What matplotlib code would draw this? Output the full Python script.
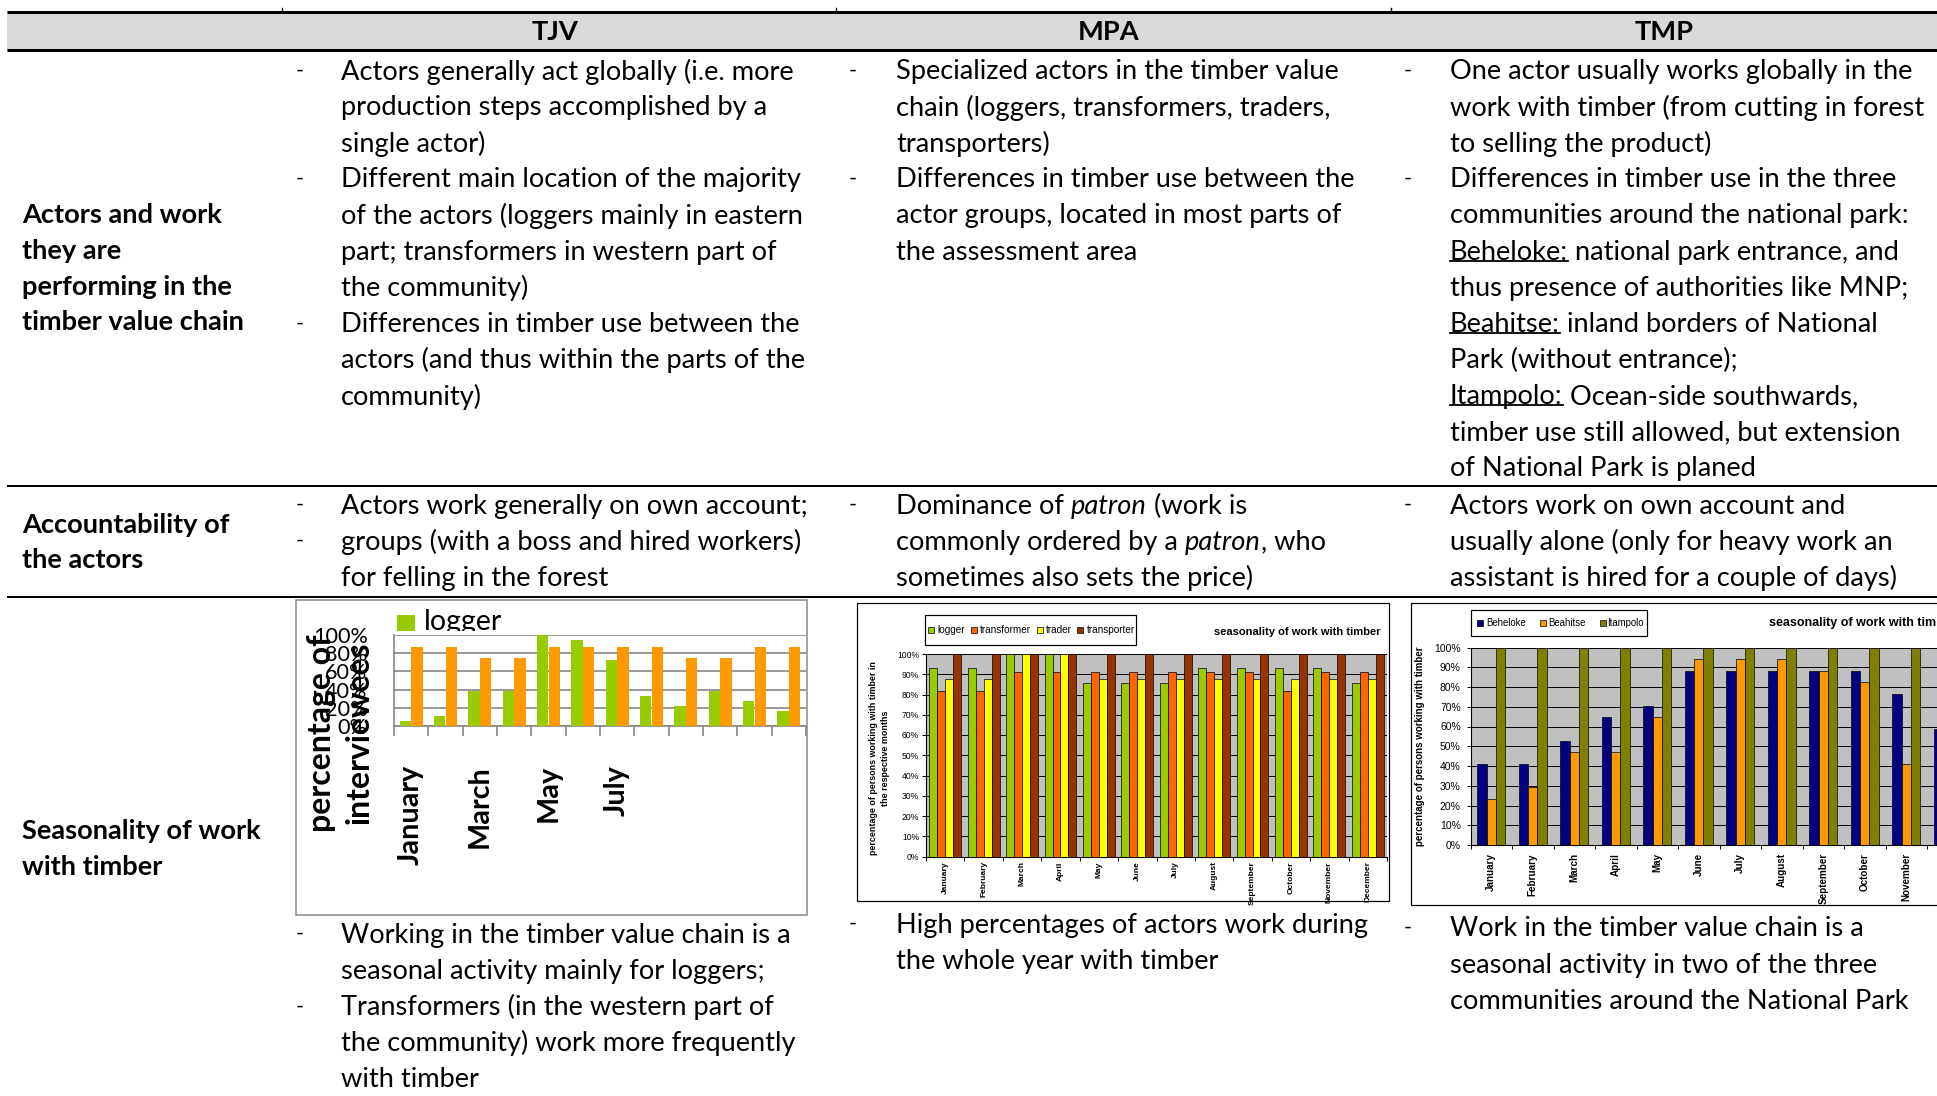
import re
import numpy as np
import matplotlib
matplotlib.use('Agg')
import matplotlib.pyplot as plt
from matplotlib.lines import Line2D
from matplotlib.patches import Rectangle

W, H = 1937, 1096
FONT = 'Lato'
CFONT = 'Liberation Sans'
BODY = 19.6

months = ['January', 'February', 'March', 'April', 'May', 'June', 'July',
          'August', 'September', 'October', 'November', 'December']

# TJV chart (percentage of interviewees)
tjv_series = ['logger', 'transformer']
tjv_logger = [5, 10.5, 39, 39, 100, 94, 72, 33, 22, 39, 27, 16]
tjv_transformer = [87, 87, 74.5, 74.5, 87, 87, 87, 87, 74.5, 74.5, 87, 87]
tjv_months_shown = ['January', 'March', 'May', 'July']

# MPA chart
mpa_series = ['logger', 'transformer', 'trader', 'transporter']
mpa_logger = [92.9, 92.9, 100, 100, 85.7, 85.7, 85.7, 92.9, 92.9, 92.9, 92.9, 85.7]
mpa_transformer = [81.8, 81.8, 90.9, 90.9, 90.9, 90.9, 90.9, 90.9, 90.9, 81.8, 90.9, 90.9]
mpa_trader = [87.5, 87.5, 100, 100, 87.5, 87.5, 87.5, 87.5, 87.5, 87.5, 87.5, 87.5]
mpa_transporter = [100, 100, 100, 100, 100, 100, 100, 100, 100, 100, 100, 100]

# TMP chart
tmp_series = ['Beheloke', 'Beahitse', 'Itampolo']
tmp_beheloke = [41.2, 41.2, 52.9, 64.7, 70.6, 88.2, 88.2, 88.2, 88.2, 88.2, 76.5, 58.8]
tmp_beahitse = [23.5, 29.4, 47.1, 47.1, 64.7, 94.1, 94.1, 94.1, 88.2, 82.4, 41.2, 29.4]
tmp_itampolo = [100, 100, 100, 100, 100, 100, 100, 100, 100, 100, 100, 100]

# table text
headers = ['TJV', 'MPA', 'TMP']
row_labels = [['Actors and work', 'they are', 'performing in the', 'timber value chain'],
              ['Accountability of', 'the actors'],
              ['Seasonality of work', 'with timber']]

# (bullet, text); *x* italic, _x_ underlined
tjv_r1 = [(1, 'Actors generally act globally (i.e. more'), (0, 'production steps accomplished by a'),
          (0, 'single actor)'), (1, 'Different main location of the majority'),
          (0, 'of the actors (loggers mainly in eastern'), (0, 'part; transformers in western part of'),
          (0, 'the community)'), (1, 'Differences in timber use between the'),
          (0, 'actors (and thus within the parts of the'), (0, 'community)')]
mpa_r1 = [(1, 'Specialized actors in the timber value'), (0, 'chain (loggers, transformers, traders,'),
          (0, 'transporters)'), (1, 'Differences in timber use between the'),
          (0, 'actor groups, located in most parts of'), (0, 'the assessment area')]
tmp_r1 = [(1, 'One actor usually works globally in the'), (0, 'work with timber (from cutting in forest'),
          (0, 'to selling the product)'), (1, 'Differences in timber use in the three'),
          (0, 'communities around the national park:'), (0, '_Beheloke:_ national park entrance, and'),
          (0, 'thus presence of authorities like MNP;'), (0, '_Beahitse:_ inland borders of National'),
          (0, 'Park (without entrance);'), (0, '_Itampolo:_ Ocean-side southwards,'),
          (0, 'timber use still allowed, but extension'), (0, 'of National Park is planed')]
tjv_r2 = [(1, 'Actors work generally on own account;'), (1, 'groups (with a boss and hired workers)'),
          (0, 'for felling in the forest')]
mpa_r2 = [(1, 'Dominance of *patron* (work is'), (0, 'commonly ordered by a *patron*, who'),
          (0, 'sometimes also sets the price)')]
tmp_r2 = [(1, 'Actors work on own account and'), (0, 'usually alone (only for heavy work an'),
          (0, 'assistant is hired for a couple of days)')]
tjv_r3 = [(1, 'Working in the timber value chain is a'), (0, 'seasonal activity mainly for loggers;'),
          (1, 'Transformers (in the western part of'), (0, 'the community) work more frequently'),
          (0, 'with timber')]
mpa_r3 = [(1, 'High percentages of actors work during'), (0, 'the whole year with timber')]
tmp_r3 = [(1, 'Work in the timber value chain is a'), (0, 'seasonal activity in two of the three'),
          (0, 'communities around the National Park')]

fig = plt.figure(figsize=(W / 100, H / 100), dpi=100)
fig.patch.set_facecolor('white')
renderer = fig.canvas.get_renderer()


def fx(x):
    return x / W


def fy(y):
    return 1 - y / H


def rect(x0, y0, x1, y1):
    return [fx(x0), fy(y1), (x1 - x0) / W, (y1 - y0) / H]


def hline(y, lw, x0=7, x1=W):
    fig.add_artist(Line2D([fx(x0), fx(x1)], [fy(y), fy(y)], lw=lw * 0.72, color='black',
                          transform=fig.transFigure, solid_capstyle='butt'))


def box(x0, y0, x1, y1, ec='black', lw=1.0, fc='white', z=0):
    fig.add_artist(Rectangle((fx(x0), fy(y1)), (x1 - x0) / W, (y1 - y0) / H, transform=fig.transFigure,
                             facecolor=fc, edgecolor=ec, lw=lw * 0.72, zorder=z))


t = fig.text(0, 0, 'a a', fontsize=BODY, family=FONT)
t2 = fig.text(0, 0, 'aa', fontsize=BODY, family=FONT)
SP = t.get_window_extent(renderer).width - t2.get_window_extent(renderer).width
t.remove()
t2.remove()


def draw_line(x, y, line):
    parts = re.split(r'(\*[^*]+\*|_[^_]+_)', line)
    for p in parts:
        if not p:
            continue
        style, ul = 'normal', False
        if p.startswith('*'):
            style, p = 'italic', p[1:-1]
        elif p.startswith('_'):
            ul, p = True, p[1:-1]
        lead = len(p) - len(p.lstrip(' '))
        trail = len(p) - len(p.rstrip(' '))
        x += lead * SP
        tx = fig.text(fx(x), fy(y), p.strip(' '), ha='left', va='center', fontsize=BODY,
                      family=FONT, style=style)
        bb = tx.get_window_extent(renderer)
        if ul:
            yy = bb.y0 + 4
            fig.add_artist(Line2D([bb.x0 / W, bb.x1 / W], [yy / H, yy / H], lw=1.3,
                                  color='black', transform=fig.transFigure))
        x += bb.width + trail * SP


def draw_cell(xdash, xtext, y0, lines, step=36.1):
    for i, (bullet, s) in enumerate(lines):
        y = y0 + i * step
        if bullet:
            fig.text(fx(xdash), fy(y - 1), '-', ha='center', va='center', fontsize=BODY * 0.8, family=FONT)
        draw_line(xtext, y, s)


# ---- table frame ----
box(7, 12, W + 5, 50, ec='none', fc='#D9D9D9', lw=0)
hline(12, 3)
hline(50, 3)
hline(485.5, 2)
hline(597, 2)
for xc in [282, 836, 1391]:
    fig.add_artist(Line2D([fx(xc), fx(xc)], [fy(8), fy(12)], lw=1, color='black', transform=fig.transFigure))

for h, xc in zip(headers, [555, 1109, 1664]):
    fig.text(fx(xc), fy(32), h, ha='center', va='center', fontsize=BODY, family=FONT, weight='bold')

for lab, ys in zip(row_labels, [[215, 251, 287, 322], [525, 560], [831, 867]]):
    for s, y in zip(lab, ys):
        fig.text(fx(22), fy(y), s, ha='left', va='center', fontsize=BODY, family=FONT, weight='bold')

cols = [(300, 341), (853, 896), (1408, 1450)]
for (xd, xt), r1, r2, r3, y3 in zip(cols, [tjv_r1, mpa_r1, tmp_r1], [tjv_r2, mpa_r2, tmp_r2],
                                    [tjv_r3, mpa_r3, tmp_r3], [935, 925, 929]):
    draw_cell(xd, xt, 71.6, r1)
    draw_cell(xd, xt, 506, r2)
    draw_cell(xd, xt, y3, r3)

x = np.arange(12)

# ---- TJV chart ----
box(296, 600, 807, 915, ec='#868686', lw=1.5)
ax1 = fig.add_axes(rect(394, 635, 806, 726))
ax1.patch.set_alpha(0)
ax1.bar(x - 0.17, tjv_logger, 0.33, color='#99CC00', zorder=3)
ax1.bar(x + 0.17, tjv_transformer, 0.33, color='#FF9900', zorder=3)
ax1.set_xlim(-0.5, 11.5)
ax1.set_ylim(0, 100)
ax1.set_yticks(np.arange(0, 101, 20))
ax1.set_yticklabels(['%d%%' % v for v in range(0, 101, 20)], family=FONT, fontsize=15.6)
ax1.tick_params(axis='y', length=0, pad=19)
ax1.grid(axis='y', color='#868686', lw=1.2)
ax1.set_xticks([months.index(m) for m in tjv_months_shown])
ax1.set_xticklabels(tjv_months_shown, rotation=90, family=FONT, fontsize=20.7, weight='bold', va='top')
ax1.set_xticks(np.arange(-0.5, 12, 1), minor=True)
ax1.tick_params(axis='x', which='major', length=0, pad=28)
ax1.tick_params(axis='x', which='minor', length=7, color='#868686', width=1.2)
for s in ['top', 'right']:
    ax1.spines[s].set_visible(False)
for s in ['left', 'bottom']:
    ax1.spines[s].set_color('#868686')
    ax1.spines[s].set_linewidth(1.2)
fig.text(fx(322), fy(733), 'percentage of', rotation=90, ha='center', va='center', family=FONT,
         fontsize=23, weight='bold')
fig.text(fx(359), fy(733), 'interviewees', rotation=90, ha='center', va='center', family=FONT,
         fontsize=23, weight='bold')

# legend of the TJV chart is cut at its lower edge, as in the source
axl = fig.add_axes(rect(390, 601, 560, 630.5))
axl.set_axis_off()
axl.set_xlim(390, 560)
axl.set_ylim(630.5, 601)
axl.add_patch(Rectangle((397, 615), 18, 17, facecolor='#99CC00', lw=0, clip_on=True))
axl.text(424, 622, tjv_series[0], ha='left', va='center', family=FONT, fontsize=20.5, clip_on=True)


def excel_chart(ax, series_vals, colors, w, ysize, xsize, xpad, ypad):
    n = len(series_vals)
    for i, (vals, c) in enumerate(zip(series_vals, colors)):
        ax.bar(x + (i - (n - 1) / 2) * w, vals, w, color=c, edgecolor='black', lw=0.5, zorder=3)
    ax.set_facecolor('#C0C0C0')
    ax.set_xlim(-0.5, 11.5)
    ax.set_ylim(0, 100)
    ax.set_yticks(np.arange(0, 101, 10))
    ax.set_yticklabels(['%d%%' % v for v in range(0, 101, 10)], family=CFONT, fontsize=ysize)
    ax.tick_params(axis='y', length=3, width=0.7, pad=ypad)
    ax.grid(axis='y', color='black', lw=0.7)
    ax.set_axisbelow(True)
    ax.set_xticks(x)
    ax.set_xticklabels(months, rotation=90, family=CFONT, fontsize=xsize, weight='bold', va='top')
    ax.set_xticks(np.arange(-0.5, 12, 1), minor=True)
    ax.tick_params(axis='x', which='major', length=0, pad=xpad)
    ax.tick_params(axis='x', which='minor', length=3, width=0.7)
    for s in ['top', 'right']:
        ax.spines[s].set_visible(False)
    for s in ['left', 'bottom']:
        ax.spines[s].set_linewidth(0.8)


def legend(x0, y0, x1, y1, names, colors, sq_x, txt_x, size):
    box(x0, y0, x1, y1, ec='black', lw=1.2, z=2)
    yc = (y0 + y1) / 2
    for n, c, sx, tx in zip(names, colors, sq_x, txt_x):
        fig.add_artist(Rectangle((fx(sx), fy(yc + 3.2)), 6.4 / W, 6.4 / H, transform=fig.transFigure,
                                 facecolor=c, edgecolor='black', lw=0.5, zorder=3))
        fig.text(fx(tx), fy(yc), n, ha='left', va='center', family=CFONT, fontsize=size, zorder=3)


# ---- MPA chart ----
box(857, 603, 1389, 901, lw=1.2)
ax2 = fig.add_axes(rect(926, 654, 1387, 856.5))
mpa_colors = ['#99CC00', '#FF6600', '#FFFF00', '#993300']
excel_chart(ax2, [mpa_logger, mpa_transformer, mpa_trader, mpa_transporter], mpa_colors, 0.207,
            6.2, 6.0, 3.5, 2)
legend(925, 615, 1136, 645, mpa_series, mpa_colors, [928, 971, 1036.5, 1077], [937.6, 979.7, 1045.4, 1086.4], 7.2)
fig.text(fx(1380), fy(632), 'seasonality of work with timber', ha='right', va='center', family=CFONT,
         fontsize=8, weight='bold')
fig.text(fx(874), fy(758), 'percentage of persons working with timber in', rotation=90, ha='center',
         va='center', family=CFONT, fontsize=6.4, weight='bold')
fig.text(fx(886), fy(758), 'the respective months', rotation=90, ha='center',
         va='center', family=CFONT, fontsize=6.4, weight='bold')

# ---- TMP chart ----
box(1411, 603, 1976, 905, lw=1.2)
ax3 = fig.add_axes(rect(1470.5, 647.5, 1968.5, 845))
tmp_colors = ['#000080', '#FF9900', '#808000']
excel_chart(ax3, [tmp_beheloke, tmp_beahitse, tmp_itampolo], tmp_colors, 0.225, 7.5, 7.1, 5.8, 4)
legend(1470.5, 610, 1646.6, 636, tmp_series, tmp_colors, [1477, 1539.7, 1599.5], [1486.5, 1548, 1607.6], 6.9)
fig.text(fx(1769), fy(623), 'seasonality of work with timber', ha='left', va='center', family=CFONT,
         fontsize=9, weight='bold')
fig.text(fx(1420), fy(746), 'percentage of persons working with timber', rotation=90, ha='center',
         va='center', family=CFONT, fontsize=7, weight='bold')

fig.savefig('out.png', dpi=100, facecolor='white')
